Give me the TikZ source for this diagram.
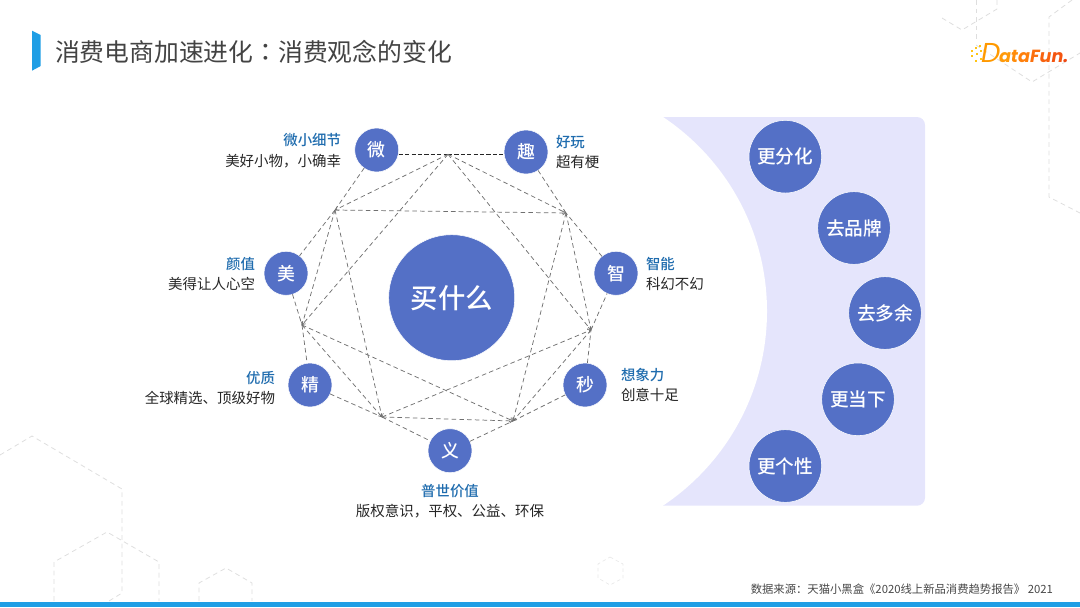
\documentclass[tikz,border=0pt]{standalone}
\usepackage{fontspec}
\usetikzlibrary{arrows.meta}
\setmainfont{Noto Sans CJK SC}
\newfontfamily\cjk{Noto Sans CJK SC}
\newfontfamily\cjktc{Noto Sans CJK TC}
\newfontfamily\cjkm{Noto Sans CJK SC Medium}
\newfontfamily\logofont{Poppins}[BoldFont=Poppins Bold,ItalicFont=Poppins Italic,BoldItalicFont=Poppins Bold Italic]
\definecolor{disc}{HTML}{5470C6}
\definecolor{panel}{HTML}{E5E5FC}
\definecolor{barblue}{HTML}{1F9EE5}
\definecolor{labelblue}{HTML}{1F6CAE}
\definecolor{ink}{HTML}{262626}
\definecolor{titleink}{HTML}{434343}
\definecolor{hex}{HTML}{DEDEDE}
\definecolor{starline}{HTML}{707070}
\definecolor{logoyellow}{HTML}{FFC414}
\tikzset{
  every node/.style={inner sep=0pt,outer sep=0pt},
  hexline/.style={draw=hex,line width=0.6pt,dash pattern=on 3.6pt off 2.8pt},
  hexfaint/.style={draw=hex!70,line width=0.5pt,dash pattern=on 2.6pt off 2.2pt},
  smalldisc/.style={circle,fill=disc,draw=white,line width=0.4pt,minimum size=33pt,text=white,font=\cjkm\fontsize{13.4}{13.4}\selectfont},
  bigdisc/.style={circle,fill=disc,draw=white,line width=0.4pt,minimum size=54.5pt,text=white,font=\cjkm\fontsize{14}{14}\selectfont},
  hubdisc/.style={circle,fill=disc,draw=white,line width=0.4pt,minimum size=94.5pt,text=white,font=\cjkm\fontsize{20.5}{20.5}\selectfont},
  headlabel/.style={text=labelblue,font=\cjkm\fontsize{10.8}{11}\selectfont},
  sublabel/.style={text=ink,font=\cjk\fontsize{10.85}{11}\selectfont},
  starlink/.style={draw=starline,line width=0.55pt,dash pattern=on 3.4pt off 2.4pt},
  startip/.style={starlink,-{Straight Barb[length=2.2pt,width=3.2pt,line width=0.4pt]}},
  rimlink/.style={draw=ink,line width=0.7pt,dash pattern=on 3.2pt off 1.6pt},
}
\begin{document}
\begin{tikzpicture}[x=0.75pt,y=-0.75pt]
\useasboundingbox (0,0) rectangle (1080,607);
% background hexagons
\draw[hexline] (942,18) -- (962,30) -- (997,9) -- (997,0);
\draw[hexline] (976,0) -- (976,40);
\draw[hexline] (976,45) -- (1032,82) -- (1080,53);
\draw[hexline] (1072,0) -- (1049,17) -- (1049,197) -- (1080,213);
\draw[hexline] (0,455) -- (32,436) -- (122,489) -- (122,593) -- (109,601);
\draw[hexline] (54,601) -- (54,562) -- (107,532) -- (159,562) -- (159,601);
\draw[hexline] (199,601) -- (199,583) -- (226,568) -- (252,583) -- (252,601);
\draw[hexfaint] (610,557) -- (623,564) -- (623,578) -- (610,585) -- (598,578) -- (598,564) -- cycle;
% bottom bar and title accent
\fill[barblue] (0,601.5) rectangle (1080,607);
\fill[barblue] (32,30.7) -- (40.7,35) -- (40.7,66) -- (32,70.7) -- cycle;
\node[anchor=west,text=titleink,font=\cjk\fontsize{18.6}{19}\selectfont] (title) at (55,52) {消费电商加速进化{\cjktc ：}消费观念的变化};
% logo
\foreach \sx/\sy in {971/50,975/47,979/45,976/53,980/50,971/55,975/60,980/58}
  \fill[logoyellow] (\sx,\sy) rectangle ++(2.4,2.4);
\node[anchor=base west,text=orange!80!yellow,font=\logofont\itshape\fontsize{20.5}{20.5}\selectfont] (logoD) at (981,62.5) {D};
\node[anchor=base west,font=\logofont\bfseries\itshape\fontsize{13.2}{13.2}\selectfont] (logoT) at (999,62) {\textcolor[HTML]{FF9A0A}{a}\textcolor[HTML]{FF8C0A}{t}\textcolor[HTML]{FF800C}{a}\textcolor[HTML]{FB700E}{F}\textcolor[HTML]{F8620F}{u}\textcolor[HTML]{F45510}{n}\textcolor[HTML]{EF4812}{.}};
% right panel
\fill[panel,rounded corners=6pt] (600,117) rectangle (925,505.7);
\fill[white] (533.5,311.3) circle[radius=233.5];
% star vertices
\coordinate (A) at (448,154.3);
\coordinate (B) at (335,210);
\coordinate (C) at (566,213);
\coordinate (D) at (302,325);
\coordinate (E) at (591,330);
\coordinate (F) at (382,417);
\coordinate (G) at (513,421);
% discs
\node[hubdisc] (hub) at (451.7,297.7) {买什么};
\node[smalldisc] (wei) at (376.7,150) {微};
\node[smalldisc] (qu) at (526,152) {趣};
\node[smalldisc] (mei) at (286,273.3) {美};
\node[smalldisc] (zhi) at (616,273.3) {智};
\node[smalldisc] (jing) at (310,385) {精};
\node[smalldisc] (miao) at (585,385) {秒};
\node[smalldisc] (yi) at (450,450.7) {义};
\node[bigdisc] (r1) at (785.3,156.7) {更分化};
\node[bigdisc] (r2) at (854,228) {去品牌};
\node[bigdisc] (r3) at (885,313) {去多余};
\node[bigdisc] (r4) at (858,399.3) {更当下};
\node[bigdisc] (r5) at (785.3,466) {更个性};
% rim connectors
\draw[rimlink] (wei.east |- A) -- (A);
\draw[rimlink] (A) -- (qu.west |- A);
\draw[starlink] (wei) -- (B);
\draw[starlink] (B) -- (mei);
\draw[starlink] (mei) -- (D);
\draw[starlink] (D) -- (jing);
\draw[starlink] (jing) -- (F);
\draw[starlink] (F) -- (yi);
\draw[starlink] (yi) -- (G);
\draw[starlink] (G) -- (miao);
\draw[starlink] (miao) -- (E);
\draw[starlink] (E) -- (zhi);
\draw[starlink] (zhi) -- (C);
\draw[starlink] (C) -- (qu);
% star chords
\draw[startip] (A) -- (B);
\draw[startip] (A) -- (D);
\draw[startip] (A) -- (C);
\draw[startip] (A) -- (E);
\draw[startip] (B) -- (C);
\draw[startip] (B) -- (D);
\draw[startip] (B) -- (F);
\draw[startip] (C) -- (E);
\draw[startip] (C) -- (G);
\draw[startip] (D) -- (F);
\draw[startip] (D) -- (G);
\draw[startip] (F) -- (E);
\draw[startip] (E) -- (G);
\draw[startip] (F) -- (G);
% labels
\node[headlabel,anchor=east] (l1a) at (341,140) {微小细节};
\node[sublabel,anchor=east] (l1b) at (341,161) {美好小物，小确幸};
\node[headlabel,anchor=west] (l2a) at (556,142) {好玩};
\node[sublabel,anchor=west] (l2b) at (556,162) {超有梗};
\node[headlabel,anchor=east] (l3a) at (255,264) {颜值};
\node[sublabel,anchor=east] (l3b) at (255,284) {美得让人心空};
\node[headlabel,anchor=west] (l4a) at (646,264) {智能};
\node[sublabel,anchor=west] (l4b) at (646,284) {科幻不幻};
\node[headlabel,anchor=east] (l5a) at (275,378) {优质};
\node[sublabel,anchor=east] (l5b) at (275,398) {全球精选、顶级好物};
\node[headlabel,anchor=west] (l6a) at (621,375) {想象力};
\node[sublabel,anchor=west] (l6b) at (621,395) {创意十足};
\node[headlabel] (l7a) at (450,491) {普世价值};
\node[sublabel] (l7b) at (450,511) {版权意识，平权、公益、环保};
\node[anchor=east,text=ink!85,font=\cjk\fontsize{8.5}{9}\selectfont] (source) at (1053,589) {数据来源：天猫小黑盒《2020线上新品消费趋势报告》 2021};
\end{tikzpicture}
\end{document}
